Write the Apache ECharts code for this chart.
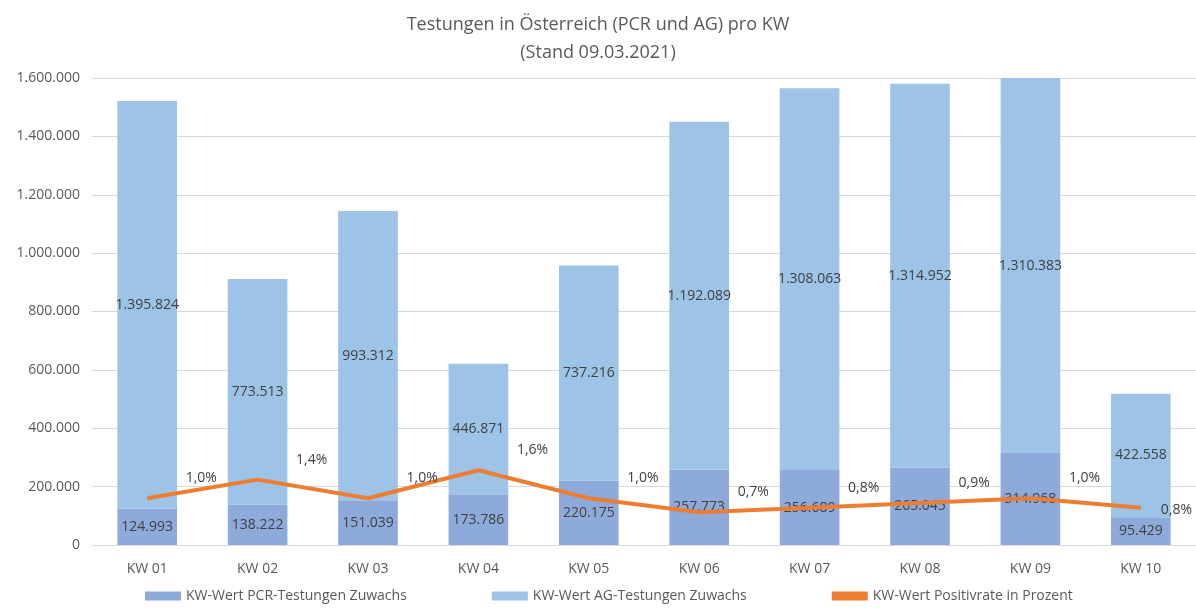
<!DOCTYPE html>
<html>
<head>
<meta charset="utf-8">
<script src="https://cdn.jsdelivr.net/npm/echarts@6/dist/echarts.min.js"></script>
<style>
html,body{margin:0;padding:0;background:#fff;}
#chart{width:1196px;height:610px;}
</style>
</head>
<body>
<div id="chart"></div>
<script>
var weeks = ['KW 01','KW 02','KW 03','KW 04','KW 05','KW 06','KW 07','KW 08','KW 09','KW 10'];
var pcrValues = [124993,138222,151039,173786,220175,257773,256689,265045,314968,95429];
var agValues = [1395824,773513,993312,446871,737216,1192089,1308063,1314952,1310383,422558];
var positiveRate = [1.0,1.4,1.0,1.6,1.0,0.7,0.8,0.9,1.0,0.8];

function fmtNum(v){
	return String(Math.round(v)).replace(/\B(?=(\d{3})+(?!\d))/g, '.');
}

var myChart = echarts.init(document.getElementById('chart'));
var txt = '#404040';
var font = 'Open Sans';
var option = {
	animation:false,
	textStyle:{fontFamily:font},
	title : {
		text: 'Testungen in Österreich (PCR und AG) pro KW\n(Stand 09.03.2021)',
		left:'center',
		top:6,
		textStyle:{fontFamily:font,fontSize:18,fontWeight:'normal',color:'#595959',lineHeight:28}
	},
	legend: {
		bottom:2,
		left:140,
		itemGap:85,
		itemWidth:36,
		itemHeight:9,
		textStyle:{fontFamily:font,fontSize:14,color:'#595959'},
		data:[
			{name:'KW-Wert PCR-Testungen Zuwachs',icon:'rect'},
			{name:'KW-Wert AG-Testungen Zuwachs',icon:'rect'},
			{name:'KW-Wert Positivrate in Prozent',icon:'rect',itemStyle:{color:'#ed7d31'}}
		]
	},
	grid: {
		left:92,
		right:0,
		top:78,
		bottom:65
	},
	xAxis : [
		{
			type : 'category',
			data : weeks,
			axisLine:{lineStyle:{color:'#d9d9d9'}},
			axisTick:{show:false},
			axisLabel:{fontFamily:font,fontSize:14,color:'#595959',margin:17}
		}
	],
	yAxis : [
		{
			type : 'value',
			min:0,
			max:1600000,
			interval:200000,
			axisLine:{show:false},
			axisTick:{show:false},
			splitLine:{lineStyle:{color:'#d9d9d9'}},
			axisLabel:{fontFamily:font,fontSize:14,color:'#595959',margin:12,
				formatter:function(v){ return fmtNum(v); }}
		},
		{
			type:'value',
			min:0,
			max:10,
			show:false,
			splitLine:{show:false}
		}
	],
	series : [
		{
			name:'KW-Wert PCR-Testungen Zuwachs',
			type:'bar',
			stack:'tests',
			barWidth:'54%',
			itemStyle:{color:'#8eaadb'},
			label:{show:true,position:'inside',color:txt,fontSize:14,fontFamily:font,
				formatter:function(p){ return fmtNum(p.value); }},
			data:pcrValues
		},
		{
			name:'KW-Wert AG-Testungen Zuwachs',
			type:'bar',
			stack:'tests',
			itemStyle:{color:'#9dc3e6'},
			label:{show:true,position:'inside',color:txt,fontSize:14,fontFamily:font,
				formatter:function(p){ return fmtNum(p.value); }},
			data:agValues
		},
		{
			name:'KW-Wert Positivrate in Prozent',
			type:'line',
			yAxisIndex:1,
			symbol:'circle',
			symbolSize:1,
			showSymbol:true,
			lineStyle:{color:'#ed7d31',width:4},
			itemStyle:{color:'#ed7d31'},
			label:{show:true,position:'right',distance:0,color:txt,fontSize:14,fontFamily:font,
				formatter:function(p){ return p.value.toFixed(1).replace('.', ',') + '%'; }},
			// labels sit up-right of the point; the last one is kept inside the chart
			labelLayout:function(p){
				var r = p.labelRect;
				var dx = 38, dy = -20;
				if (r.x + dx + r.width > 1192) {
					dx = 1192 - r.x - r.width;
					dy = 2;
				}
				return {dx:dx, dy:dy};
			},
			data:positiveRate
		}
	]
};
myChart.setOption(option);
</script>
</body>
</html>
